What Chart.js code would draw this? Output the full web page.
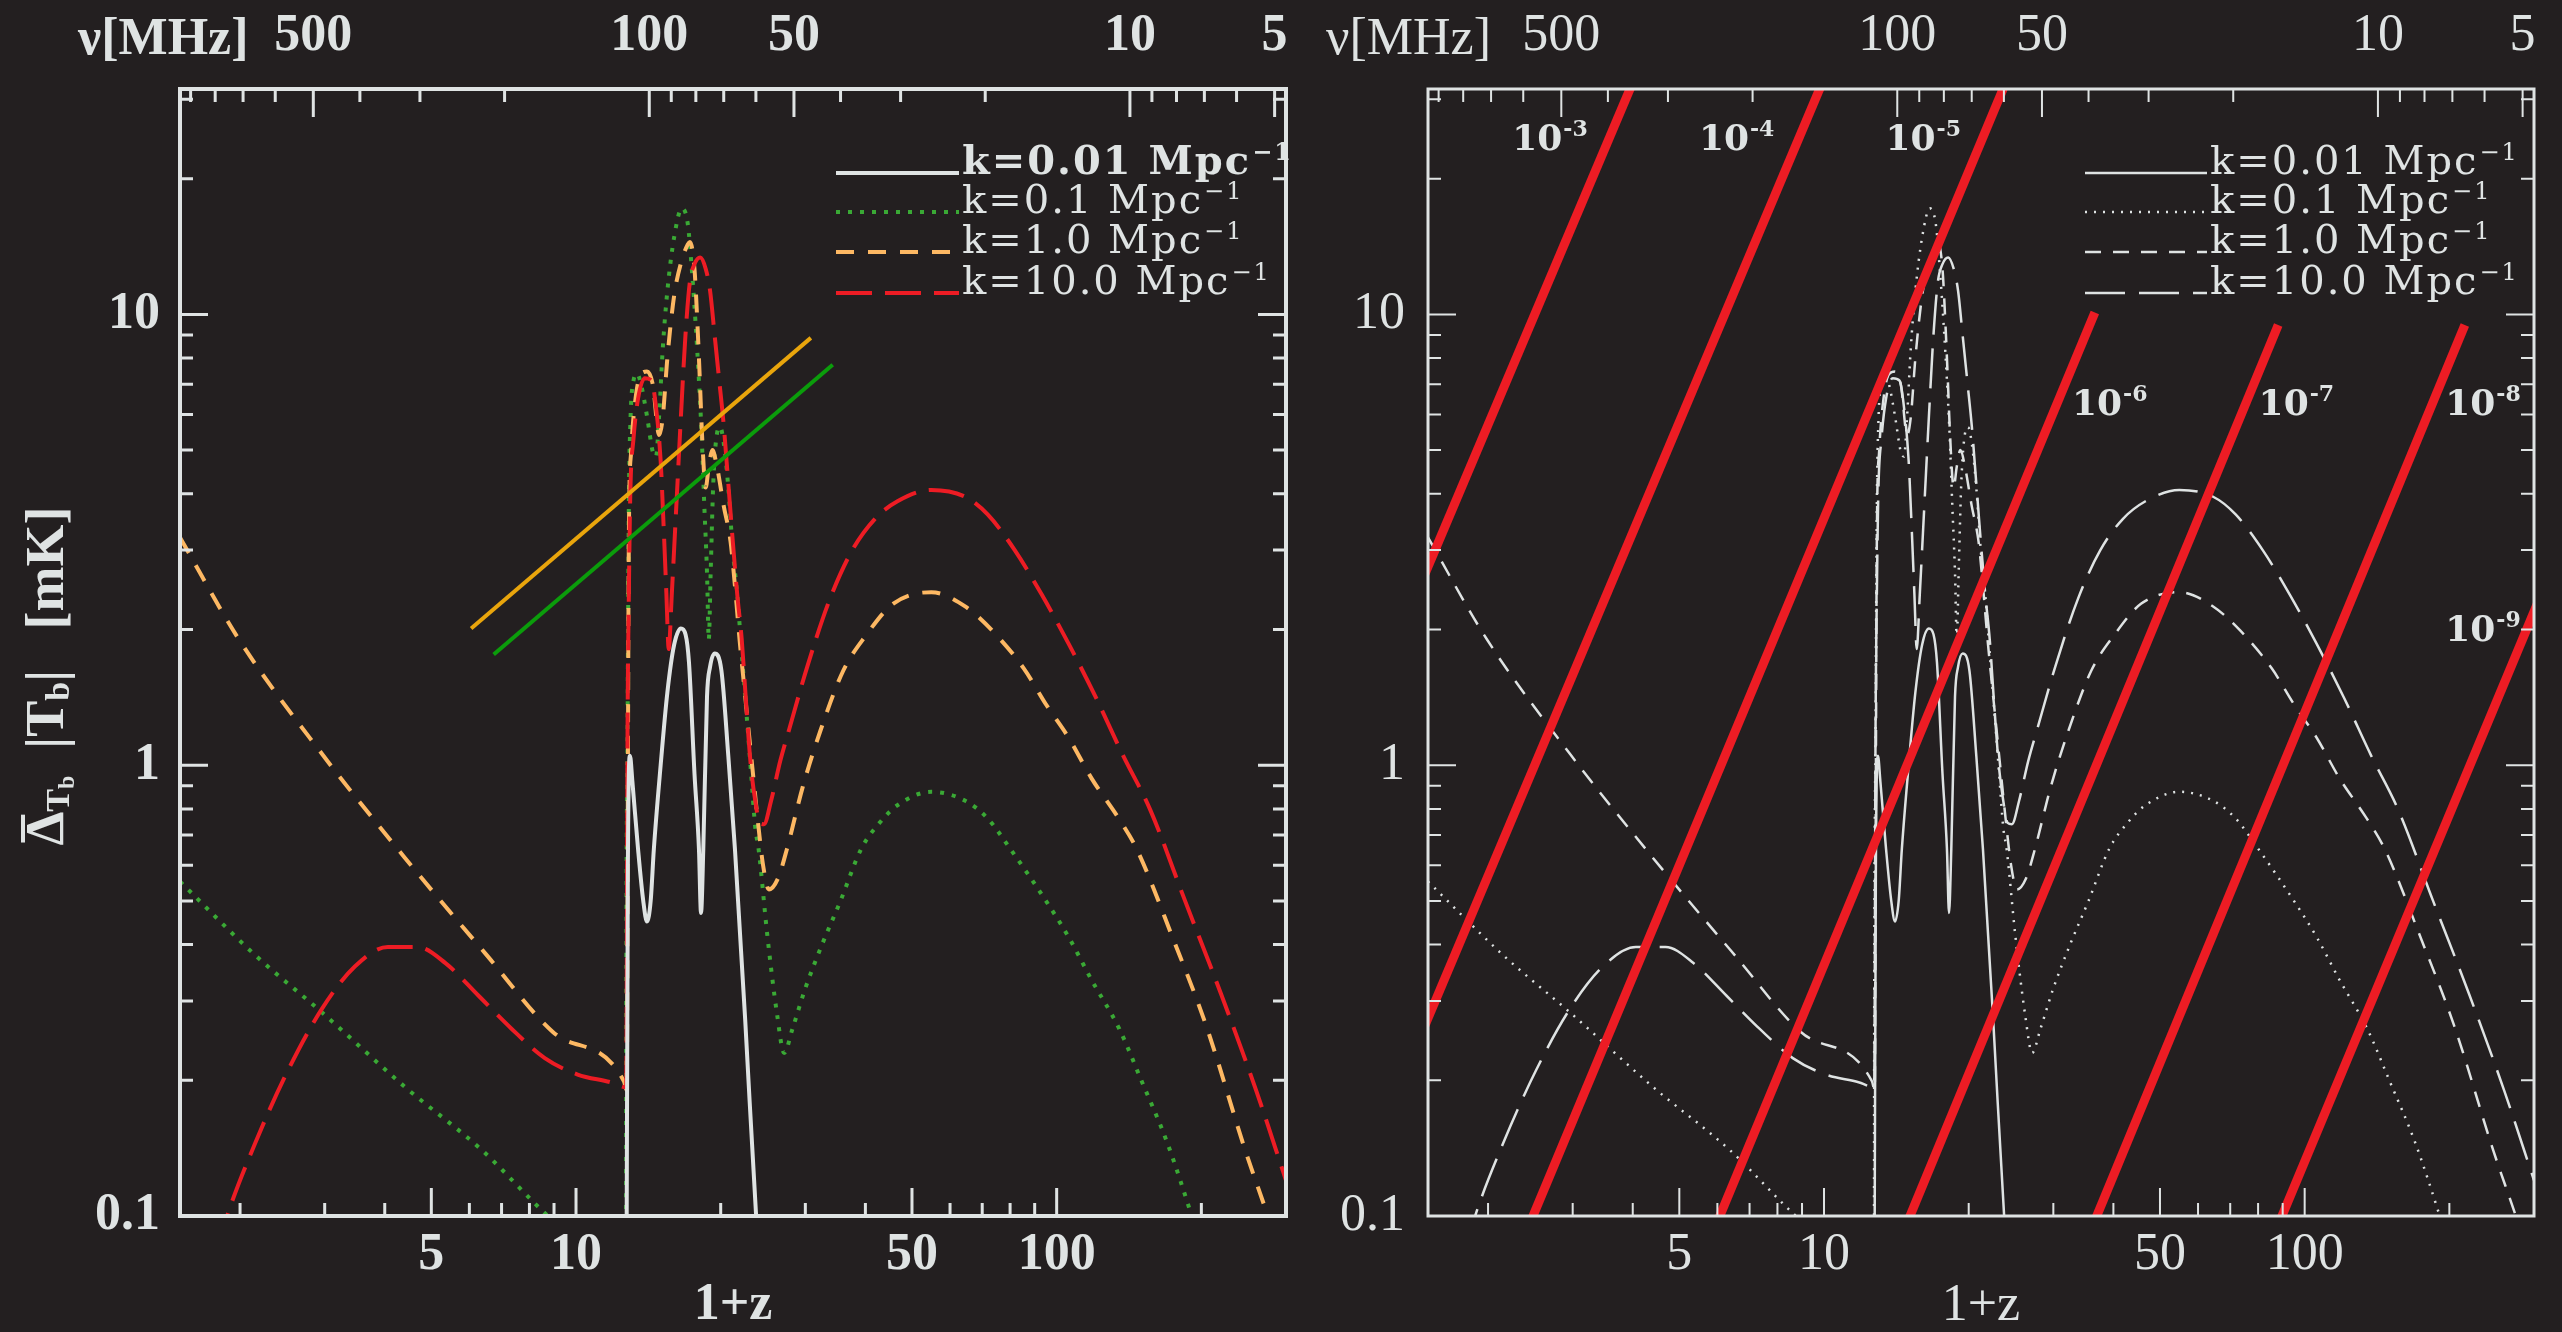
<!DOCTYPE html>
<html><head><meta charset="utf-8">
<script src="https://cdn.jsdelivr.net/npm/chart.js@4.4.1/dist/chart.umd.min.js"></script>
<style>
html,body{margin:0;padding:0;background:#231f20;width:2562px;height:1332px;overflow:hidden}
canvas{position:absolute;top:0}
#c1{left:0}
#c2{left:1300px}
</style></head><body>
<canvas id="c1" width="1300" height="1332"></canvas>
<canvas id="c2" width="1262" height="1332"></canvas>
<script>
// ---------------- data ----------------
const NU21 = 1420.4;
const xTickValues = [2,3,4,5,6,7,8,9,10,20,30,40,50,60,70,80,90,100,200];
const xTickLabels = [5,10,50,100];
const yTickValues = [0.1,0.2,0.3,0.4,0.5,0.6,0.7,0.8,0.9,1,2,3,4,5,6,7,8,9,10,20,30];
const yTickLabels = [0.1,1,10];
const nuTickValues = [900,800,700,600,500,400,300,200,100,90,80,70,60,50,40,30,20,10,9,8,7,6,5];
const nuTickLabels = [500,100,50,10,5];

// k = 0.01 Mpc^-1
const z_k001 = [12.74,12.82,12.95,13.1,13.46,13.8,14.05,14.3,14.52,15.0,15.49,16.0,16.53,16.9,17.18,17.64,18.02,18.2,18.4,18.73,19.0,19.43,20.07,20.74,21.41,22.5,23.7,24.0];
const T_k001 = [0.08,0.6,1.05,0.92,0.652,0.5,0.45,0.5,0.652,1.0,1.45,1.85,2.01,1.95,1.69,0.957,0.652,0.47,0.652,1.42,1.65,1.77,1.62,1.05,0.652,0.27,0.1,0.085];

// k = 0.1 Mpc^-1
const z_k01 = [1.5,2.15,2.96,4.39,6.37,8.74,12.70,12.72,12.80,12.88,12.97,13.17,13.40,13.66,14.05,14.45,14.67,14.89,15.15,15.49,16.0,16.60,17.08,17.44,17.75,18.02,18.25,18.49,18.73,18.89,19.06,19.30,19.64,19.94,20.29,20.74,21.19,21.65,22.12,22.61,23.10,23.60,23.98,25.0,26.2,27.1,28.2,30.0,32.5,35.5,39.2,42.8,46.64,54.86,64.5,71.84,80.1,95,106,118,135,150,170,191,200];
const T_k01 = [0.552,0.379,0.283,0.194,0.140,0.1,0.072,0.3,1.2,3.76,5.68,7.13,7.38,6.98,5.95,4.95,4.84,5.95,8.38,11.27,14.82,17.19,15.88,12.35,9.385,7.13,5.43,3.76,2.67,1.90,2.67,4.22,5.43,5.62,5.19,4.13,3.0,2.39,1.77,1.32,0.98,0.727,0.652,0.42,0.28,0.23,0.26,0.32,0.40,0.50,0.652,0.745,0.815,0.873,0.834,0.762,0.652,0.5,0.415,0.335,0.26,0.2,0.145,0.1,0.085];

// k = 1.0 Mpc^-1
const z_k1 = [1.5,1.99,2.96,4.39,6.52,8.95,12.58,12.75,12.83,12.86,12.9,13.02,13.30,13.66,14.05,14.45,14.89,15.15,15.49,16.0,16.53,17.08,17.25,17.64,17.90,18.10,18.29,18.61,18.89,19.22,19.64,20.29,20.96,21.41,21.89,22.36,22.85,23.36,23.87,24.5,25.2,26.3,27.47,29.61,32.31,35.97,40.1,45.65,54.86,64.5,73.4,85.4,95.2,106.0,118.2,134.6,146.7,175,205,246.7,275,300];
const T_k1 = [3.2,1.90,1.06,0.626,0.379,0.256,0.199,0.19,1.2,2.39,3.76,4.95,6.51,7.38,7.47,6.98,5.4,5.9,8.0,11.0,13.0,14.3,14.48,12.6,9.4,7.13,5.4,4.13,4.6,5.0,4.6,3.76,3.14,2.5,1.9,1.51,1.2,0.95,0.76,0.6,0.53,0.56,0.652,0.893,1.20,1.62,1.94,2.28,2.42,2.25,1.99,1.64,1.36,1.149,0.935,0.762,0.652,0.41,0.263,0.14,0.1,0.075];

// k = 10.0 Mpc^-1
const z_k10 = [1.8,1.88,2.15,2.52,2.96,3.47,4.06,4.68,5.35,6.27,7.35,8.61,10.08,11.8,12.72,12.80,12.88,12.97,13.17,13.46,13.90,14.36,14.67,15.0,15.22,15.42,15.59,15.82,16.17,16.53,16.89,17.25,17.64,18.13,18.61,19.01,19.43,19.86,20.29,20.74,21.19,21.65,22.12,22.61,23.10,23.60,24.1,24.6,25.46,26.59,27.76,30.28,33.71,37.57,41.88,46.64,54.86,64.5,71.84,81.8,93.1,106.0,120.8,137.5,156.5,185,220,260,300];
const T_k10 = [0.085,0.1,0.145,0.211,0.288,0.358,0.395,0.395,0.364,0.308,0.26,0.224,0.206,0.198,0.193,1.2,2.39,4.0,5.3,6.5,7.22,7.13,6.22,4.73,3.36,2.39,1.81,2.39,3.76,5.95,8.97,11.79,12.93,13.38,12.63,11.27,8.97,7.13,5.68,4.22,3.14,2.39,1.90,1.35,1.0,0.834,0.745,0.74,0.834,1.02,1.2,1.655,2.33,3.0,3.52,3.85,4.08,3.94,3.60,3.0,2.39,1.856,1.41,1.05,0.797,0.5,0.31,0.19,0.12];

// straight reference lines (left panel)
const z_lineOrange = [6.05, 30.8];
const T_lineOrange = [2.01, 8.87];
const z_lineGreen = [6.74, 34.2];
const T_lineGreen = [1.76, 7.73];

// thick red lines (right panel), one per order of magnitude
const redLineExp = ['-3','-4','-5','-6','-7','-8','-9'];
const z_red = [[1.45,4.02],[1.45,9.97],[2.37,24.0],[5.8,36.6],[14.43,88.1],[35.3,215.4],[85.7,312]];
const T_red = [[2.53,33.1],[0.252,33.1],[0.089,33.1],[0.089,10.1],[0.089,9.47],[0.089,9.47],[0.089,2.42]];
const redLabelZ = [2.69,6.58,16.08,39.3,96.1,235,235];
const redLabelT = [24.8,24.8,24.8,6.39,6.39,6.39,2.02];

const legendText = ['k=0.01 Mpc','k=0.1 Mpc','k=1.0 Mpc','k=10.0 Mpc'];

// ---------------- style ----------------
const FG = '#dfe3e3', RED = '#ed1c24', ORANGE = '#fdb863', GREEN = '#3aa935';
const ORANGE_LINE = '#e9a50c', GREEN_LINE = '#0b9c0b';
const SERIF = "'Liberation Serif', 'Times New Roman', serif";
const LEGF = "'DejaVu Serif', serif";
const TICK_MAJ = 28, TICK_MIN = 13;

function pts(xs, ys){ return xs.map((x,i)=>({x:x, y:ys[i]})); }

function richWidth(ctx, parts){
  let w = 0;
  parts.forEach(p => { ctx.font = p.font; w += ctx.measureText(p.t).width + (p.gap||0); });
  return w;
}
function drawRich(ctx, x, y, parts){
  parts.forEach(p => { x += (p.gap||0); ctx.font = p.font; ctx.fillText(p.t, x, y + (p.dy||0)); x += ctx.measureText(p.t).width; });
  return x;
}

const decor = {
  id: 'decor',
  afterDatasetsDraw(chart, args, o) {
    const ctx = chart.ctx, a = chart.chartArea;
    const xs = chart.scales.x, xt = chart.scales.x2, ys = chart.scales.y;
    ctx.save();
    ctx.strokeStyle = FG; ctx.fillStyle = FG;
    ctx.lineCap = 'butt';
    ctx.lineWidth = o.tickWidth;
    ctx.beginPath();
    xs.ticks.forEach(t => {
      const p = xs.getPixelForValue(t.value);
      const L = xTickLabels.includes(t.value) ? TICK_MAJ : TICK_MIN;
      ctx.moveTo(p, a.bottom); ctx.lineTo(p, a.bottom - L);
    });
    xt.ticks.forEach(t => {
      const p = xt.getPixelForValue(t.value);
      const L = nuTickLabels.includes(t.nu) ? TICK_MAJ : TICK_MIN;
      ctx.moveTo(p, a.top); ctx.lineTo(p, a.top + L);
    });
    ys.ticks.forEach(t => {
      const p = ys.getPixelForValue(t.value);
      const L = yTickLabels.includes(t.value) ? TICK_MAJ : TICK_MIN;
      ctx.moveTo(a.left, p); ctx.lineTo(a.left + L, p);
      ctx.moveTo(a.right, p); ctx.lineTo(a.right - L, p);
    });
    ctx.stroke();
    ctx.lineWidth = o.frameWidth;
    ctx.strokeRect(a.left, a.top, a.right - a.left, a.bottom - a.top);

    // nu[MHz] title
    ctx.textBaseline = 'alphabetic'; ctx.textAlign = 'left';
    ctx.font = `${o.bold ? 'bold ' : ''}52px ${SERIF}`;
    ctx.fillText('\u03bd[MHz]', a.left - 102, 54);

    // y title
    if (o.yTitle) {
      const B = 'bold ';
      const big = `${B}54px ${SERIF}`, sub = `${B}34px ${SERIF}`, sub2 = `${B}24px ${SERIF}`;
      const parts = [
        {t:'\u0394', font:big},
        {t:'T', font:sub, dy:11},
        {t:'b', font:sub2, dy:19},
        {t:'  |T', font:big},
        {t:'b', font:sub, dy:11},
        {t:'|   [mK]', font:big}
      ];
      ctx.save();
      ctx.translate(49, 676);
      ctx.rotate(-Math.PI/2);
      ctx.textBaseline = 'middle';
      const W = richWidth(ctx, parts);
      const x0 = -W/2;
      drawRich(ctx, x0, 0, parts);
      ctx.font = big;
      const dw = ctx.measureText('\u0394').width;
      ctx.lineWidth = 4;
      ctx.beginPath(); ctx.moveTo(x0 + 3, -26); ctx.lineTo(x0 + dw - 3, -26); ctx.stroke();
      ctx.restore();
    }

    // labels of red lines
    if (o.redLabels) {
      ctx.textBaseline = 'alphabetic';
      redLineExp.forEach((e, i) => {
        const px = xs.getPixelForValue(redLabelZ[i]);
        const py = ys.getPixelForValue(redLabelT[i]);
        const parts = [{t:'10', font:`bold 36px ${LEGF}`}, {t:e, font:`bold 22px ${LEGF}`, dy:-14, gap:1}];
        const W = richWidth(ctx, parts);
        drawRich(ctx, px - W/2, py + 13, parts);
      });
    }

    // legend
    const L = o.legend;
    L.items.forEach((dsIndex, i) => {
      const ds = chart.data.datasets[dsIndex];
      const y = L.baselines[i];
      ctx.save();
      ctx.strokeStyle = ds.borderColor; ctx.lineWidth = ds.borderWidth;
      ctx.setLineDash(ds.borderDash || []);
      ctx.beginPath(); ctx.moveTo(L.lineX1, y - 1); ctx.lineTo(L.lineX2, y - 1); ctx.stroke();
      ctx.restore();
      ctx.save();
      ctx.fillStyle = FG; ctx.textBaseline = 'alphabetic'; ctx.textAlign = 'left';
      ctx.letterSpacing = '2px';
      const w = (o.bold && i === 0) ? 'bold ' : '';
      drawRich(ctx, L.textX, y, [
        {t:legendText[i], font:`${w}40px ${LEGF}`},
        {t:'\u22121', font:`${w}24px ${LEGF}`, dy:-14, gap:1}
      ]);
      ctx.restore();
    });
    ctx.restore();
  }
};

function line(data, color, width, dash, mono){
  return { data, borderColor: color, backgroundColor: color, borderWidth: width, borderDash: dash || [],
           pointRadius: 0, fill: false, tension: 0, cubicInterpolationMode: mono ? 'monotone' : 'default',
           xAxisID: 'x', yAxisID: 'y' };
}

function noPadH(s){ s.paddingLeft = 0; s.paddingRight = 0; }
function noPadV(s){ s.paddingTop = 0; s.paddingBottom = 0; }

function makeOptions(side){
  const fw = side.bold ? 'bold' : 'normal';
  return {
    responsive: false, animation: false, events: [],
    layout: { padding: { left: 0, right: side.padRight, top: 0, bottom: 0 } },
    plugins: { legend: { display: false }, tooltip: { enabled: false }, decor: side.decor },
    elements: { line: { borderCapStyle: 'butt', borderJoinStyle: 'round' } },
    scales: {
      x: {
        type: 'logarithmic', position: 'bottom', min: 1.5, max: 300,
        afterBuildTicks: s => { s.ticks = xTickValues.map(v => ({value: v})); },
        afterFit: s => { s.height = 116; noPadH(s); },
        grid: { display: false, drawTicks: false }, border: { display: false },
        ticks: { autoSkip: false, maxRotation: 0, minRotation: 0, padding: 8, color: FG,
                 font: { family: SERIF, size: 52, weight: fw },
                 callback: v => xTickLabels.includes(v) ? String(v) : '' },
        title: { display: true, text: '1+z', color: FG, padding: {top: 0, bottom: 0},
                 font: { family: SERIF, size: 52, weight: fw, lineHeight: 1 } }
      },
      x2: {
        type: 'logarithmic', position: 'top', min: 1.5, max: 300,
        afterBuildTicks: s => { s.ticks = nuTickValues.map(nu => ({value: NU21 / nu, nu: nu})); },
        afterFit: s => { s.height = 89; noPadH(s); },
        grid: { display: false, drawTicks: false }, border: { display: false },
        ticks: { autoSkip: false, maxRotation: 0, minRotation: 0, padding: 21, color: FG,
                 font: { family: SERIF, size: 52, weight: fw },
                 callback: (v, i, ticks) => nuTickLabels.includes(ticks[i].nu) ? String(ticks[i].nu) : '' }
      },
      y: {
        type: 'logarithmic', position: 'left', min: 0.1, max: Math.pow(10, 1.5),
        afterBuildTicks: s => { s.ticks = yTickValues.map(v => ({value: v})); },
        afterFit: s => { s.width = side.yWidth; noPadV(s); },
        grid: { display: false, drawTicks: false }, border: { display: false },
        ticks: { autoSkip: false, padding: side.yPad, color: FG,
                 font: { family: SERIF, size: 52, weight: fw },
                 callback: v => yTickLabels.includes(v) ? String(v) : '' }
      }
    }
  };
}

Chart.register(decor);

// ---------- left panel ----------
const leftDatasets = [
  line(pts(z_lineOrange, T_lineOrange), ORANGE_LINE, 4),
  line(pts(z_lineGreen, T_lineGreen), GREEN_LINE, 4),
  line(pts(z_k001, T_k001), FG, 4, null, true),
  line(pts(z_k10, T_k10), RED, 4, [36, 13], true),
  line(pts(z_k1, T_k1), ORANGE, 4, [18, 14], true),
  line(pts(z_k01, T_k01), GREEN, 4, [4, 8], true)
];
new Chart(document.getElementById('c1'), {
  type: 'line',
  data: { datasets: leftDatasets },
  options: makeOptions({
    bold: true, padRight: 14, yWidth: 180, yPad: 20,
    decor: { bold: true, tickWidth: 3, frameWidth: 4, yTitle: true, redLabels: false,
             legend: { items: [2, 5, 4, 3], baselines: [174, 213, 253, 294], lineX1: 836, lineX2: 959, textX: 962 } }
  })
});

// ---------- right panel ----------
const rightDatasets = [];
z_red.forEach((zs, i) => rightDatasets.push(line(pts(zs, T_red[i]), RED, 9)));
rightDatasets.push(line(pts(z_k001, T_k001), FG, 2.5, null, true));
rightDatasets.push(line(pts(z_k01, T_k01), FG, 2.5, [2, 7], true));
rightDatasets.push(line(pts(z_k1, T_k1), FG, 2.5, [16, 12], true));
rightDatasets.push(line(pts(z_k10, T_k10), FG, 2.5, [40, 14], true));
new Chart(document.getElementById('c2'), {
  type: 'line',
  data: { datasets: rightDatasets },
  options: makeOptions({
    bold: false, padRight: 28, yWidth: 128, yPad: 23,
    decor: { bold: false, tickWidth: 2, frameWidth: 3, yTitle: false, redLabels: true,
             legend: { items: [7, 8, 9, 10], baselines: [174, 213, 253, 294], lineX1: 785, lineX2: 907, textX: 910 } }
  })
});
</script>
</body></html>
